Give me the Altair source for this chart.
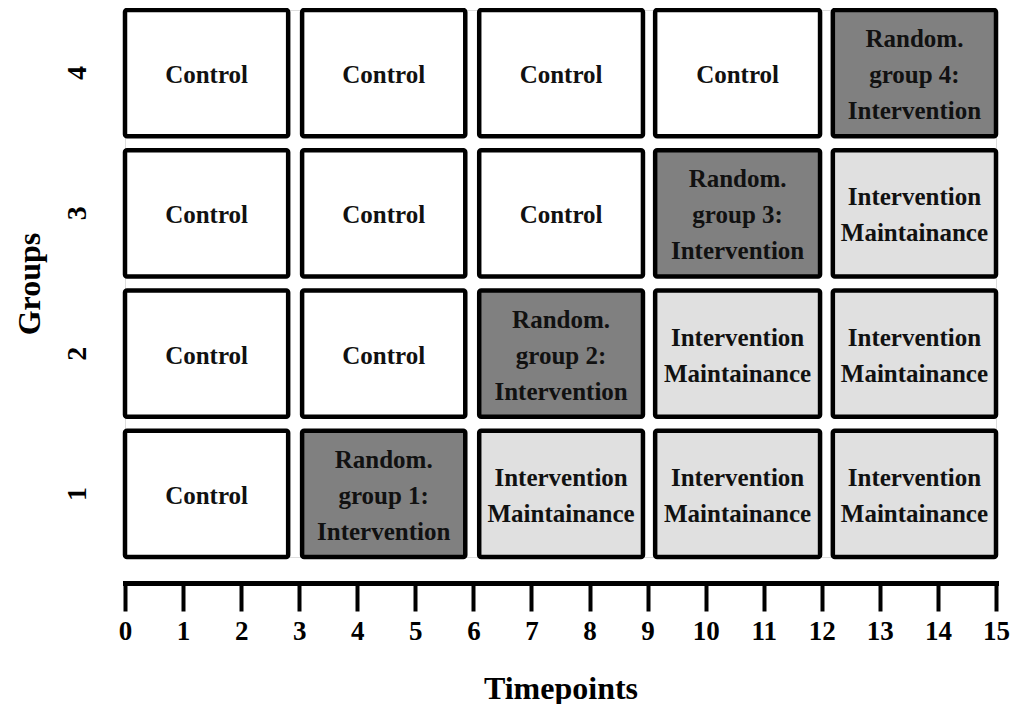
import altair as alt
import pandas as pd

# Column spans (in timepoint units)
box_start = [0.0, 3.05, 6.10, 9.13, 12.19]
box_end = [2.81, 5.86, 8.92, 11.97, 15.0]

groups = [1, 2, 3, 4]

# Phase of each cell: rows = groups 1..4, columns = periods 1..5
phases = [
    ["Control", "Intervention", "Maintainance", "Maintainance", "Maintainance"],
    ["Control", "Control", "Intervention", "Maintainance", "Maintainance"],
    ["Control", "Control", "Control", "Intervention", "Maintainance"],
    ["Control", "Control", "Control", "Control", "Intervention"],
]

cell_text = {
    "Control": "Control",
    "Maintainance": "Intervention\nMaintainance",
}

phase_colors = {"Control": "#ffffff", "Intervention": "#808080", "Maintainance": "#e0e0e0"}

rows = []
for gi, g in enumerate(groups):
    for pi in range(5):
        ph = phases[gi][pi]
        if ph == "Intervention":
            txt = f"Random.\ngroup  {g}:\nIntervention"
        else:
            txt = cell_text[ph]
        rows.append({
            "group": g,
            "start": box_start[pi],
            "end": box_end[pi],
            "mid": (box_start[pi] + box_end[pi]) / 2,
            "phase": ph,
            "label": txt,
            "nlines": txt.count("\n") + 1,
        })
df = pd.DataFrame(rows)

FONT = "Liberation Serif"
LINE_H = 36

x_enc = alt.X(
    "start:Q",
    scale=alt.Scale(domain=[0, 15], nice=False, zero=False),
    axis=alt.Axis(
        title="Timepoints",
        values=list(range(16)),
        format="d",
        grid=False,
        offset=26,
        domainColor="black",
        domainWidth=5,
        domainCap="square",
        tickColor="black",
        tickWidth=4,
        tickSize=28,
        labelFont=FONT,
        labelFontSize=27,
        labelFontWeight="bold",
        labelColor="black",
        labelPadding=7,
        labelFlush=False,
        labelOverlap=False,
        titleFont=FONT,
        titleFontSize=32,
        titleFontWeight="bold",
        titleColor="black",
        titlePadding=29,
    ),
)

y_enc = alt.Y(
    "group:O",
    sort="descending",
    scale=alt.Scale(paddingInner=0.1, paddingOuter=0),
    axis=alt.Axis(
        title="Groups",
        domain=False,
        ticks=False,
        grid=False,
        labelAngle=-90,
        labelFont=FONT,
        labelFontSize=28,
        labelFontWeight="bold",
        labelColor="black",
        labelPadding=34,
        titleFont=FONT,
        titleFontSize=32,
        titleFontWeight="bold",
        titleColor="black",
        titlePadding=17,
    ),
)

rects = alt.Chart(df).mark_rect(
    stroke="black", strokeWidth=4.5, cornerRadius=2
).encode(
    x=x_enc,
    x2="end:Q",
    y=y_enc,
    fill=alt.Fill(
        "phase:N",
        scale=alt.Scale(domain=list(phase_colors.keys()), range=list(phase_colors.values())),
        legend=None,
    ),
)


def text_layer(n):
    return alt.Chart(df).transform_filter(
        alt.datum.nlines == n
    ).mark_text(
        font=FONT, fontSize=25, fontWeight="bold", lineBreak="\n", lineHeight=LINE_H,
        align="center", baseline="middle", dy=2 - (n - 1) * LINE_H / 2, color="#111111",
    ).encode(
        x=alt.X("mid:Q"),
        y=alt.Y("group:O", sort="descending"),
        text="label:N",
    )


chart = alt.layer(rects, text_layer(1), text_layer(2), text_layer(3)).properties(
    width=871,
    height=547,
    autosize=alt.AutoSizeParams(type="none"),
    padding={"left": 117, "top": 2, "right": 14, "bottom": 147},
).configure_view(stroke=None).configure(background="white")

chart.save("out.html", embed_options={"renderer": "svg", "actions": False})
